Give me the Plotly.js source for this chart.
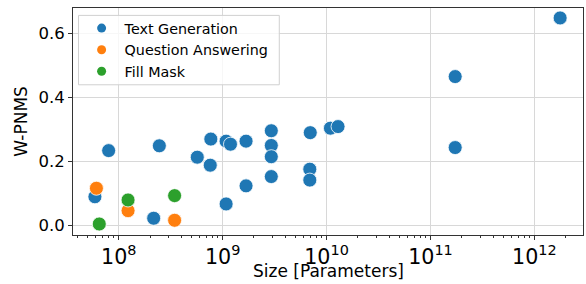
<!DOCTYPE html>
<html>
<head>
<meta charset="utf-8">
<script src="https://cdn.plot.ly/plotly-3.0.1.min.js"></script>
<style>html,body{margin:0;padding:0;background:#fff}#chart{width:586px;height:284px}</style>
</head>
<body>
<div id="chart"></div>
<script>
const textGenSize = [5.9e7, 8.0e7, 2.46e8, 2.17e8, 5.7e8, 7.7e8, 7.6e8, 1.08e9, 1.19e9, 1.08e9, 1.68e9, 1.68e9, 2.94e9, 2.94e9, 2.94e9, 2.94e9, 6.97e9, 6.9e9, 6.9e9, 1.09e10, 1.29e10, 1.73e11, 1.73e11, 1.77e12];
const textGenScore = [0.089, 0.233, 0.248, 0.022, 0.2125, 0.269, 0.1875, 0.2625, 0.253, 0.0666, 0.2625, 0.123, 0.295, 0.249, 0.214, 0.152, 0.289, 0.175, 0.141, 0.303, 0.308, 0.464, 0.2425, 0.647];
const qaSize = [6.1e7, 1.23e8, 3.45e8];
const qaScore = [0.1156, 0.0456, 0.0156];
const fmSize = [6.5e7, 1.23e8, 3.45e8];
const fmScore = [0.004, 0.079, 0.0925];

const seriesNames = ["Text Generation", "Question Answering", "Fill Mask"];
const colors = ["#1f77b4", "#ff7f0e", "#2ca02c"];
const xs = [textGenSize, qaSize, fmSize];
const ys = [textGenScore, qaScore, fmScore];

const traces = [];
for (let i = 0; i < 3; i++) {
  traces.push({
    x: xs[i], y: ys[i], type: "scatter", mode: "markers", name: seriesNames[i],
    showlegend: false,
    marker: {color: colors[i], size: 14, line: {color: "#ffffff", width: 0.8}}
  });
}
for (let i = 0; i < 3; i++) {
  traces.push({
    x: [null], y: [null], type: "scatter", mode: "markers", name: seriesNames[i],
    showlegend: true,
    marker: {color: colors[i], size: 9}
  });
}

const layout = {
  width: 586, height: 284,
  margin: {l: 72.5, r: 3, t: 8.3, b: 49},
  paper_bgcolor: "#fff", plot_bgcolor: "#fff",
  font: {family: "DejaVu Sans", size: 16.5, color: "#000"},
  showlegend: true,
  legend: {x: 0.011, y: 0.981, xanchor: "left", yanchor: "top",
    bgcolor: "rgba(0,0,0,0)", borderwidth: 0,
    font: {size: 14.3}, tracegroupgap: 0, itemwidth: 36},
  shapes: [{
    type: "rect", xref: "paper", yref: "paper", layer: "above",
    x0: 0.0108, x1: 0.4045, y0: 0.6617, y1: 0.9674,
    fillcolor: "rgba(255,255,255,0.8)", line: {color: "#d0d0d0", width: 1}
  }],
  annotations: [{
    text: "Size [Parameters]", xref: "paper", yref: "paper",
    x: 0.5, y: -0.16, xanchor: "center", yanchor: "middle",
    showarrow: false, font: {size: 17}, borderpad: 0
  }],
  xaxis: {
    type: "log", range: [7.56, 12.468],
    showgrid: true, gridcolor: "#d8d8d8", gridwidth: 1,
    zeroline: false, showline: true, linecolor: "#333", linewidth: 1, mirror: true,
    ticks: "outside", ticklen: 4, tickcolor: "#333",
    dtick: 1, exponentformat: "power",
    tickfont: {size: 16.5}, ticklabelstandoff: 0,
    minor: {ticks: "outside", ticklen: 2, tickcolor: "#333", showgrid: false}
  },
  yaxis: {
    range: [-0.0303, 0.678],
    tickvals: [0, 0.2, 0.4, 0.6], tickformat: ".1f",
    showgrid: true, gridcolor: "#d8d8d8", gridwidth: 1,
    zeroline: false, showline: true, linecolor: "#333", linewidth: 1, mirror: true,
    ticks: "outside", ticklen: 4, tickcolor: "#333",
    tickfont: {size: 16.5},
    title: {text: "W-PNMS", font: {size: 17}, standoff: 6}
  }
};

Plotly.newPlot("chart", traces, layout, {displayModeBar: false, staticPlot: true});
</script>
</body>
</html>
